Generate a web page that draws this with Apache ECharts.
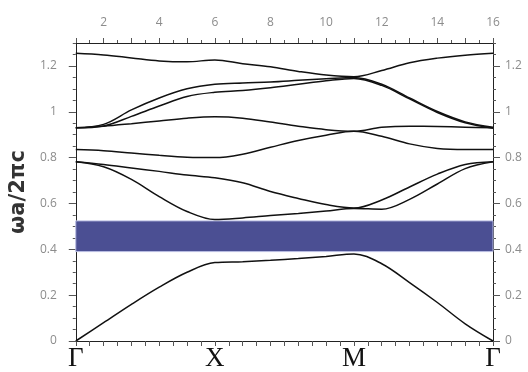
<!DOCTYPE html>
<html><head><meta charset="utf-8">
<script src="https://cdn.jsdelivr.net/npm/echarts@6/dist/echarts.min.js"></script>
<style>html,body{margin:0;padding:0;background:#fff}#c{width:528px;height:372px}</style>
</head><body><div id="c"></div>
<script>
// k-point index along the path Γ–X–M–Γ
const kIndex = [1,2,3,4,5,6,7,8,9,10,11,12,13,14,15,16];
const kPointPos = [1, 6, 11, 16];
const kPointNames = ['Γ', 'X', 'M', 'Γ'];
const topTickLabels = [2, 4, 6, 8, 10, 12, 14, 16];
const yTickValues = [0, 0.2, 0.4, 0.6, 0.8, 1.0, 1.2];
const yAxisTitle = 'ωa/2πc';
// photonic band gap (normalized frequency)
const gapRange = [0.39, 0.524];

const band1 = [0.000, 0.080, 0.160, 0.235, 0.300, 0.342, 0.346, 0.352, 0.360, 0.369, 0.380, 0.337, 0.255, 0.168, 0.075, 0.000];
const band2 = [0.782, 0.760, 0.705, 0.630, 0.565, 0.530, 0.537, 0.547, 0.556, 0.567, 0.578, 0.575, 0.618, 0.685, 0.752, 0.782];
const band3 = [0.782, 0.770, 0.755, 0.740, 0.724, 0.712, 0.690, 0.652, 0.622, 0.595, 0.580, 0.615, 0.672, 0.728, 0.770, 0.782];
const band4 = [0.835, 0.830, 0.820, 0.810, 0.802, 0.800, 0.815, 0.845, 0.875, 0.898, 0.915, 0.893, 0.860, 0.840, 0.835, 0.835];
const band5 = [0.930, 0.937, 0.948, 0.960, 0.972, 0.978, 0.972, 0.955, 0.937, 0.922, 0.915, 0.932, 0.937, 0.936, 0.933, 0.930];
const band6 = [0.930, 0.938, 0.980, 1.025, 1.067, 1.085, 1.093, 1.105, 1.120, 1.135, 1.145, 1.115, 1.056, 0.997, 0.952, 0.928];
const band7 = [0.930, 0.945, 1.008, 1.060, 1.100, 1.120, 1.126, 1.130, 1.137, 1.144, 1.150, 1.120, 1.060, 1.001, 0.956, 0.932];
const band8 = [1.255, 1.248, 1.235, 1.222, 1.218, 1.226, 1.210, 1.196, 1.176, 1.160, 1.153, 1.180, 1.214, 1.234, 1.247, 1.255];
const bands = [band1, band2, band3, band4, band5, band6, band7, band8];

const tickFont = { fontFamily: 'Open Sans', fontSize: 12, color: '#8c8c8c' };
const lineCol = '#222';

function minorY(pos) {
  return {
    type: 'value', position: pos, min: 0, max: 1.3, interval: 0.05,
    axisLine: { show: true, lineStyle: { color: lineCol, width: 1 } },
    axisTick: { show: true, inside: false, length: 3, lineStyle: { color: '#555' } },
    axisLabel: { show: false }, splitLine: { show: false }
  };
}
function majorY(pos, margin, withName) {
  const a = {
    type: 'value', position: pos, min: 0, max: 1.3,
    axisLine: { show: false },
    axisTick: { show: true, inside: false, length: 7, customValues: yTickValues, lineStyle: { color: '#555' } },
    axisLabel: Object.assign({ show: true, margin: margin, customValues: yTickValues }, tickFont),
    splitLine: { show: false }
  };
  if (withName) {
    a.name = yAxisTitle;
    a.nameLocation = 'middle';
    a.nameRotate = 90;
    a.nameGap = 45;
    a.nameTextStyle = { fontFamily: 'DejaVu Sans', fontWeight: 'bold', fontSize: 21, color: '#333' };
  }
  return a;
}

const option = {
  animation: false,
  backgroundColor: '#fff',
  grid: { left: 73, right: 35, top: 43, bottom: 27, containLabel: false },
  xAxis: [
    {
      type: 'value', position: 'bottom', min: 1, max: 16, interval: 1,
      axisLine: { show: true, onZero: false, lineStyle: { color: lineCol, width: 1 } },
      axisTick: { show: true, inside: false, length: 5, lineStyle: { color: '#555' } },
      minorTick: { show: true, splitNumber: 2, length: 5, lineStyle: { color: '#555' } },
      axisLabel: {
        show: true, margin: 4, fontFamily: 'Liberation Serif', fontSize: 27, color: '#111',
        formatter: function (v) { const i = kPointPos.indexOf(Math.round(v)); return (i >= 0 && Math.abs(v - Math.round(v)) < 1e-6) ? kPointNames[i] : ''; }
      },
      splitLine: { show: false }
    },
    {
      type: 'value', position: 'top', min: 1, max: 16, interval: 1,
      axisLine: { show: true, onZero: false, lineStyle: { color: lineCol, width: 1 } },
      axisTick: { show: true, inside: false, length: 5, lineStyle: { color: '#555' } },
      minorTick: { show: true, splitNumber: 2, length: 3, lineStyle: { color: '#555' } },
      axisLabel: Object.assign({
        show: true, margin: 14,
        formatter: function (v) { return topTickLabels.indexOf(Math.round(v)) >= 0 ? String(Math.round(v)) : ''; }
      }, tickFont),
      splitLine: { show: false }
    }
  ],
  yAxis: [minorY('left'), majorY('left', 19, true), minorY('right'), majorY('right', 12, false)],
  series: bands.map(function (b, bi) {
    const s = {
      type: 'line', xAxisIndex: 0, yAxisIndex: 0,
      data: kIndex.map(function (k, i) { return [k, b[i]]; }),
      showSymbol: false, smooth: 0.35, z: 5,
      lineStyle: { color: '#111', width: 1.5 }
    };
    if (bi === 0) {
      s.markArea = {
        silent: true,
        itemStyle: { color: '#4b4f93', borderColor: '#b9bde3', borderWidth: 1 },
        data: [[{ yAxis: gapRange[0] }, { yAxis: gapRange[1] }]]
      };
    }
    return s;
  })
};

const chart = echarts.init(document.getElementById('c'), null, { renderer: 'canvas' });
chart.setOption(option);
</script>
</body></html>
